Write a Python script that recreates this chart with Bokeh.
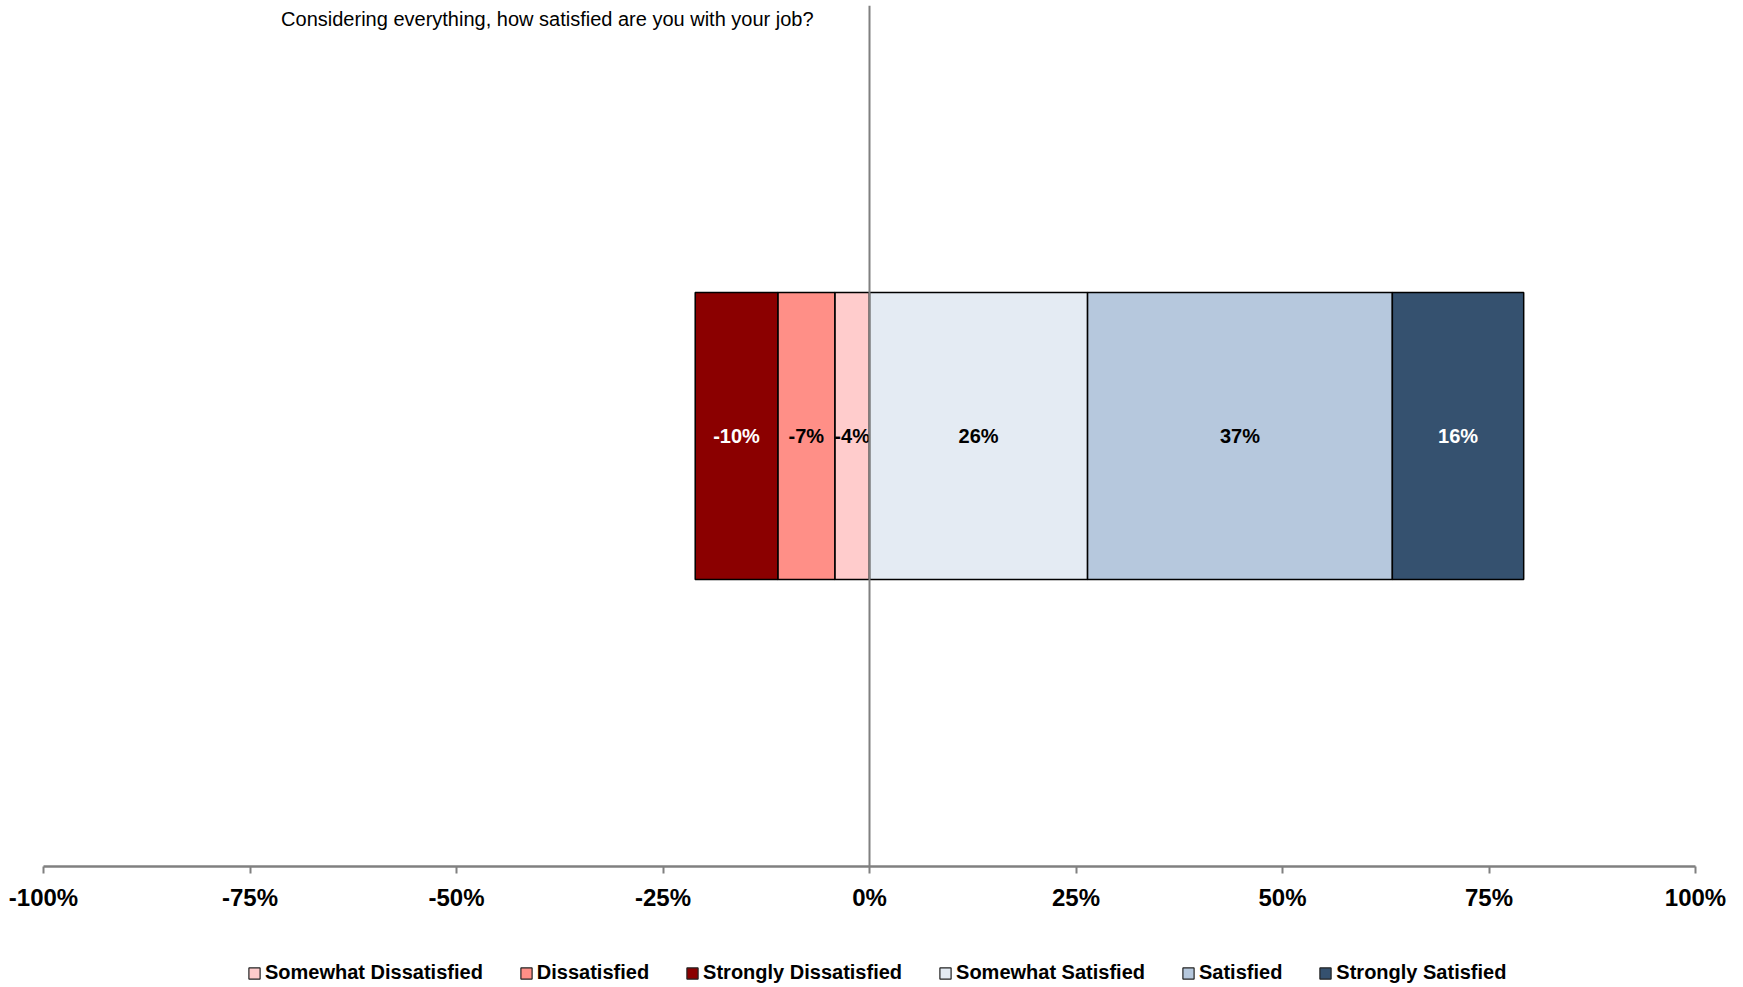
from bokeh.plotting import figure
from bokeh.layouts import column
from bokeh.models import Range1d, Span, Legend, LegendItem, Label, ColumnDataSource, FixedTicker
from bokeh.core.properties import value
from bokeh.embed import file_html
from bokeh.resources import INLINE

# ---------------- data ----------------
question = "Considering everything, how satisfied are you with your job?"
categories = ["Somewhat Dissatisfied", "Dissatisfied", "Strongly Dissatisfied",
              "Somewhat Satisfied", "Satisfied", "Strongly Satisfied"]
values = [-4.2, -6.9, -10.0, 26.4, 36.9, 15.9]
colors = ["#FFCCCC", "#FF8F87", "#8B0000", "#E4EBF3", "#B6C8DD", "#35516F"]
label_colors = ["black", "black", "white", "black", "black", "white"]
ticks = [-100, -75, -50, -25, 0, 25, 50, 75, 100]
tick_labels = ["-100%", "-75%", "-50%", "-25%", "0%", "25%", "50%", "75%", "100%"]

FONT = "'Liberation Sans Narrow', 'Arial Narrow', 'Liberation Sans', Arial, sans-serif"

# stack from zero outward
lefts, rights = [], []
neg_pos, pos_pos = 0.0, 0.0
for v in values:
    if v < 0:
        lefts.append(neg_pos + v)
        rights.append(neg_pos)
        neg_pos += v
    else:
        lefts.append(pos_pos)
        rights.append(pos_pos + v)
        pos_pos += v
mids = [(l + r) / 2 for l, r in zip(lefts, rights)]
texts = ["{:.0f}%".format(v) for v in values]

# ---------------- main chart ----------------
p = figure(width=1743, height=927, output_backend="svg", toolbar_location=None,
           x_range=Range1d(-100, 100), y_range=Range1d(0, 1),
           y_axis_location=None,
           min_border_left=43, min_border_right=48, min_border_top=5, min_border_bottom=61)
p.xgrid.visible = False
p.ygrid.visible = False
p.outline_line_color = None
p.background_fill_color = "white"

bar_sources = []
for i, cat in enumerate(categories):
    src = ColumnDataSource(dict(y=[0.5], left=[lefts[i]], right=[rights[i]]))
    bar_sources.append(src)
    p.hbar(y="y", left="left", right="right", height=1/3, source=src,
           fill_color=colors[i], line_color="black", line_width=1.5)

lab_src = ColumnDataSource(dict(x=mids, y=[0.5] * len(mids), t=texts, c=label_colors))
p.text(x="x", y="y", text="t", text_color="c", source=lab_src,
       text_align="center", text_baseline="middle",
       text_font=value(FONT), text_font_style="bold", text_font_size="20px")

p.add_layout(Span(location=0, dimension="height", line_color="#808080", line_width=2))

p.add_layout(Label(x=-39, y=0.984, text=question, text_align="center", text_baseline="middle",
                   text_font=FONT, text_font_size="20px", text_color="black"))

ax = p.xaxis[0]
ax.ticker = FixedTicker(ticks=ticks)
ax.major_label_overrides = {t: l for t, l in zip(ticks, tick_labels)}
ax.axis_line_color = "#808080"
ax.axis_line_width = 2.5
ax.major_tick_line_color = "#808080"
ax.major_tick_line_width = 2
ax.major_tick_out = 7
ax.major_tick_in = 0
ax.minor_tick_line_color = None
ax.major_label_standoff = 10
ax.major_label_text_font = FONT
ax.major_label_text_font_style = "bold"
ax.major_label_text_font_size = "24px"
ax.major_label_text_color = "black"

# ---------------- legend strip ----------------
lg = figure(width=1743, height=60, output_backend="svg", toolbar_location=None,
            x_range=Range1d(-100, 100), y_range=Range1d(10, 11),
            x_axis_location=None, y_axis_location=None,
            min_border_left=0, min_border_right=0, min_border_top=0, min_border_bottom=0)
lg.xgrid.visible = False
lg.ygrid.visible = False
lg.outline_line_color = None

items = []
for i, cat in enumerate(categories):
    r = lg.hbar(y="y", left="left", right="right", height=1/3, source=bar_sources[i],
                fill_color=colors[i], line_color="#222222", line_width=1.2)
    items.append(LegendItem(label=cat, renderers=[r]))

legend = Legend(items=items, orientation="horizontal", location=(204, 3),
                padding=0, margin=0, spacing=36, glyph_width=14, glyph_height=14,
                label_standoff=4, label_text_font=FONT, label_text_font_style="bold",
                label_text_font_size="20px", label_text_color="black",
                border_line_color=None, background_fill_alpha=0)
lg.add_layout(legend, "center")

layout = column(p, lg, spacing=0)
open("out.html", "w").write(file_html(layout, INLINE))
